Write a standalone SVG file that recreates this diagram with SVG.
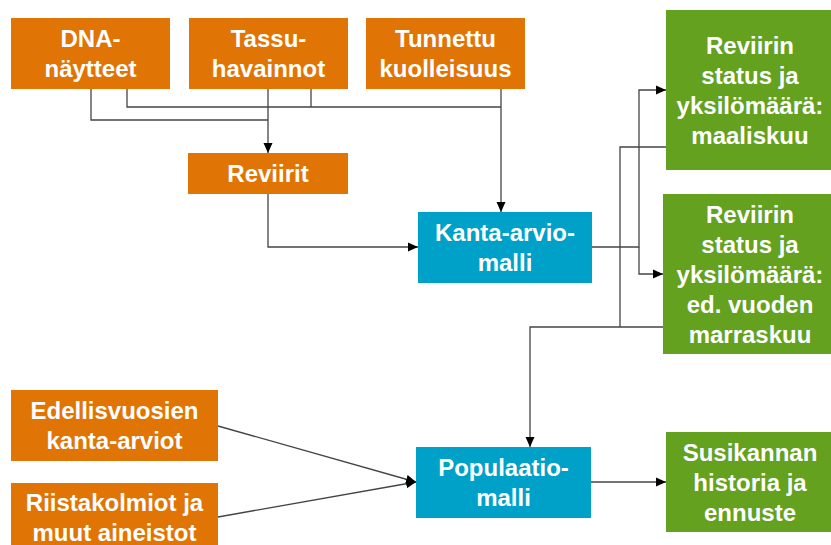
<svg xmlns="http://www.w3.org/2000/svg" width="831" height="545" viewBox="0 0 831 545">
<style>
.or{fill:#E07405}
.bl{fill:#00A1C8}
.gr{fill:#64A11F}
text{font-family:"Liberation Sans",Arial,sans-serif;font-weight:bold;font-size:24px;fill:#fff;text-anchor:middle}
.c path{fill:none;stroke:#444;stroke-width:1.3}
</style>
<defs>
<marker id="ah" markerUnits="userSpaceOnUse" markerWidth="10" markerHeight="10" refX="10" refY="5" orient="auto">
<path d="M0,0.5 L10,5 L0,9.5 z" fill="#000"/>
</marker>
</defs>
<rect width="831" height="545" fill="#fff"/>
<g class="c" id="connectors">
<path d="M91,89 V120 H268"/>
<path d="M127,89 V107 H501"/>
<path d="M311,89 V107"/>
<path d="M268,89 V153" marker-end="url(#ah)"/>
<path d="M501,89 V212" marker-end="url(#ah)"/>
<path d="M268,194 V247 H418" marker-end="url(#ah)"/>
<path d="M592,247 H639 V90 H666" marker-end="url(#ah)"/>
<path d="M639,247 V274 H663" marker-end="url(#ah)"/>
<path d="M666,147 H620 V327"/>
<path d="M663,327 H530 V447" marker-end="url(#ah)"/>
<path d="M591,482 H666" marker-end="url(#ah)"/>
<path d="M218,426 L416,482" marker-end="url(#ah)"/>
<path d="M218,517 L416,482" marker-end="url(#ah)"/>
</g>
<g id="dna"><rect class="or" x="11" y="18" width="159" height="71"/><text x="90.5" y="47">DNA-</text><text x="90.5" y="77">näytteet</text></g>
<g id="tassu"><rect class="or" x="189" y="18" width="159" height="71"/><text x="268.5" y="47">Tassu-</text><text x="268.5" y="77">havainnot</text></g>
<g id="tunnettu"><rect class="or" x="366" y="18" width="159" height="71"/><text x="445.5" y="47">Tunnettu</text><text x="445.5" y="77">kuolleisuus</text></g>
<g id="reviirit"><rect class="or" x="188" y="153" width="160" height="41"/><text x="268" y="182">Reviirit</text></g>
<g id="kanta"><rect class="bl" x="418" y="212" width="174" height="71"/><text x="505" y="241">Kanta-arvio-</text><text x="505" y="271">malli</text></g>
<g id="status1"><rect class="gr" x="666" y="10" width="170" height="160"/><text x="750" y="53.5">Reviirin</text><text x="750" y="83.5">status ja</text><text x="750" y="113.5">yksilömäärä:</text><text x="750" y="143.5">maaliskuu</text></g>
<g id="status2"><rect class="gr" x="663" y="194" width="173" height="160"/><text x="750" y="222.5">Reviirin</text><text x="750" y="252.5">status ja</text><text x="750" y="282.5">yksilömäärä:</text><text x="750" y="312.5">ed. vuoden</text><text x="750" y="342.5">marraskuu</text></g>
<g id="edellis"><rect class="or" x="11" y="390" width="207" height="71"/><text x="114.5" y="419">Edellisvuosien</text><text x="114.5" y="449">kanta-arviot</text></g>
<g id="riista"><rect class="or" x="11" y="483" width="207" height="70"/><text x="114.5" y="511">Riistakolmiot ja</text><text x="114.5" y="541">muut aineistot</text></g>
<g id="populaatio"><rect class="bl" x="416" y="447" width="175" height="71"/><text x="503.5" y="476">Populaatio-</text><text x="503.5" y="506">malli</text></g>
<g id="susikanta"><rect class="gr" x="666" y="432" width="170" height="100"/><text x="750" y="460.5">Susikannan</text><text x="750" y="490.5">historia ja</text><text x="750" y="520.5">ennuste</text></g>
</svg>
